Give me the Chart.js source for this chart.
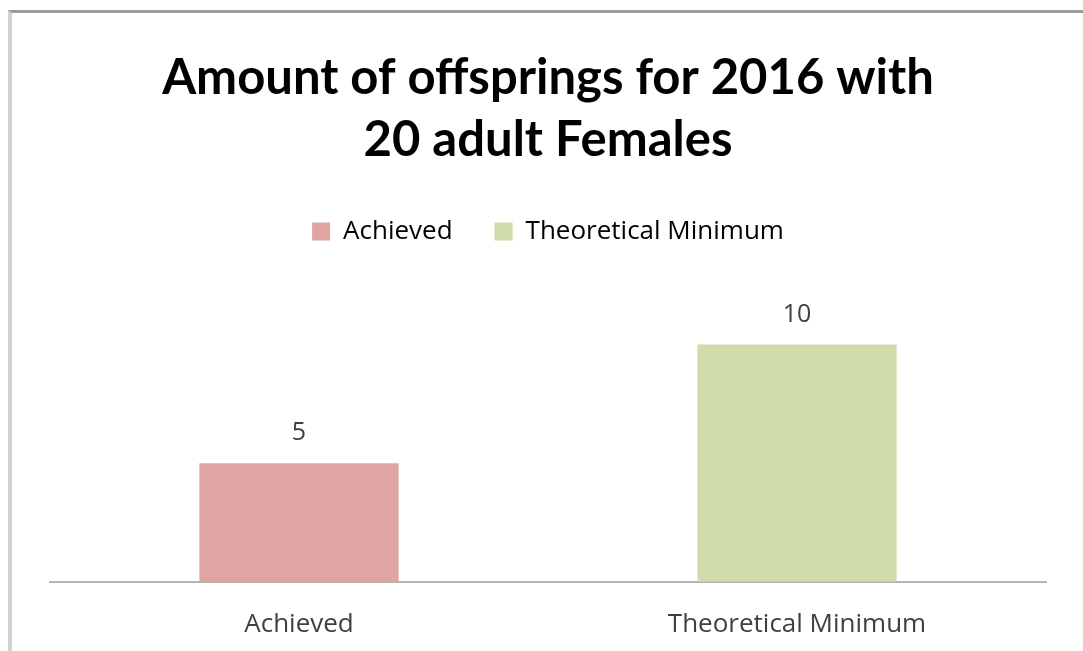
<!DOCTYPE html>
<html>
<head>
<meta charset="utf-8">
<script src="https://cdn.jsdelivr.net/npm/chart.js@4"></script>
<style>
  html, body { margin: 0; padding: 0; background: #fff; }
  #wrap { position: relative; width: 1083px; height: 651px; overflow: hidden; }
  #frame { position: absolute; left: 8px; top: 10px; width: 1071px; height: 660px;
           border-top: 3px solid #9c9c9c; border-left: 4px solid #d2d2d2; border-right: 3px solid #dcdcdc;
           pointer-events: none; }
  canvas { position: absolute; left: 0; top: 0; }
</style>
</head>
<body>
<div id="wrap">
  <canvas id="c" width="1083" height="651"></canvas>
  <div id="frame"></div>
</div>
<script>
const titleLines = ['Amount of offsprings for 2016 with', '20 adult Females'];
const categories = ['Achieved', 'Theoretical Minimum'];
const offspringValues = [5, 10];
const barColors = ['#E0A4A3', '#CFDCA9'];

const TITLE_FONT = 'Lato, "Open Sans", sans-serif';
const FONT = '"Open Sans", Lato, sans-serif';

const valueLabels = {
  id: 'valueLabels',
  afterDatasetsDraw(chart) {
    const ctx = chart.ctx;
    ctx.save();
    ctx.font = '25px ' + FONT;
    ctx.fillStyle = '#404040';
    ctx.textAlign = 'center';
    ctx.textBaseline = 'middle';
    chart.data.datasets.forEach((ds, i) => {
      chart.getDatasetMeta(i).data.forEach((bar, j) => {
        ctx.fillText(String(ds.data[j]), bar.x, bar.y - 30);
      });
    });
    ctx.restore();
  }
};

new Chart(document.getElementById('c'), {
  type: 'bar',
  data: {
    labels: categories,
    datasets: [{
      label: 'Offspring',
      data: offspringValues,
      backgroundColor: barColors,
      borderWidth: 0,
      categoryPercentage: 1,
      barPercentage: 0.4
    }]
  },
  options: {
    responsive: false,
    animation: false,
    layout: { padding: { left: 50, right: 37, top: 0, bottom: -16 } },
    plugins: {
      title: {
        display: true,
        text: titleLines,
        color: '#000',
        font: { family: TITLE_FONT, size: 49, weight: 'bold', lineHeight: 1.27 },
        padding: { top: 47, bottom: 5 }
      },
      legend: {
        display: true,
        position: 'top',
        labels: {
          color: '#404040',
          font: { family: FONT, size: 26 },
          boxWidth: 18,
          boxHeight: 18,
          padding: 42,
          generateLabels(chart) {
            return chart.data.labels.map((l, i) => ({
              text: l,
              fillStyle: barColors[i],
              strokeStyle: barColors[i],
              lineWidth: 0,
              index: i
            }));
          }
        }
      },
      tooltip: { enabled: false }
    },
    scales: {
      x: {
        grid: { display: false, drawTicks: false },
        border: { display: true, color: '#b4b4b4', width: 2 },
        ticks: { color: '#404040', font: { family: FONT, size: 26 }, padding: 27 }
      },
      y: {
        display: false,
        min: 0,
        max: 13.8
      }
    }
  },
  plugins: [valueLabels]
});
</script>
</body>
</html>
